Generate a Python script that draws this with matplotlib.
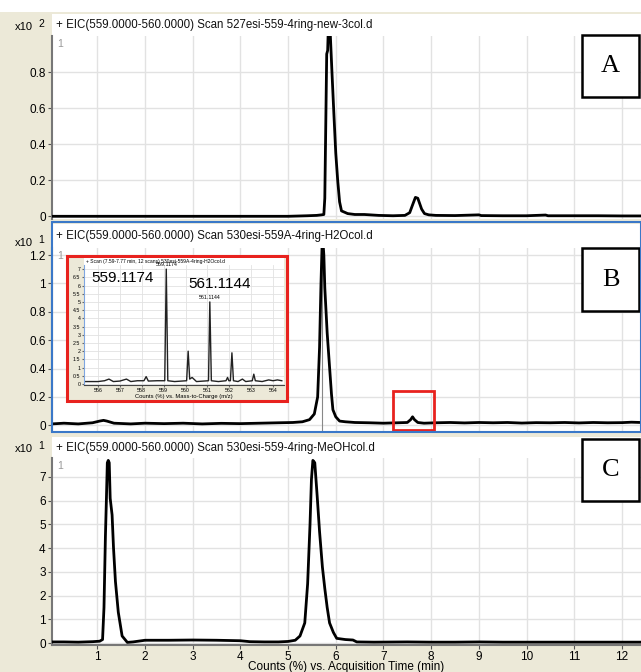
import matplotlib
matplotlib.use("Agg")
import matplotlib.pyplot as plt
from matplotlib.patches import Rectangle

plt.rcParams["font.family"] = ["Liberation Sans", "DejaVu Sans"]

# --- data ---
TIME_TICKS = [1, 2, 3, 4, 5, 6, 7, 8, 9, 10, 11, 12]

HEADERS = [
    "+ EIC(559.0000-560.0000) Scan 527esi-559-4ring-new-3col.d",
    "+ EIC(559.0000-560.0000) Scan 530esi-559A-4ring-H2Ocol.d",
    "+ EIC(559.0000-560.0000) Scan 530esi-559-4ring-MeOHcol.d",
]
PANEL_LETTERS = ["A", "B", "C"]
EXPONENTS = ["2", "1", "1"]

A_TIME = [0.05, 0.5, 1.0, 1.5, 2.0, 2.5, 3.0, 3.5, 4.0, 4.5, 5.0, 5.4, 5.6, 5.70,
          5.75, 5.77, 5.79, 5.81, 5.83, 5.85, 5.87, 5.92, 5.96, 6.00, 6.04, 6.08,
          6.12, 6.25, 6.40, 6.60, 6.90, 7.20, 7.45, 7.55, 7.62, 7.67, 7.72, 7.76,
          7.80, 7.86, 7.95, 8.10, 8.50, 9.00, 9.05, 9.50, 10.0, 10.40, 10.45,
          11.0, 11.5, 12.0, 12.4]
A_COUNTS = [0.0, 0.0, 0.0, 0.0, 0.0, 0.0, 0.0, 0.0, 0.0, 0.0, 0.0, 0.003, 0.005, 0.008,
            0.01, 0.1, 0.5, 0.9, 0.92, 1.1, 1.1, 0.8, 0.57, 0.35, 0.2, 0.08,
            0.03, 0.015, 0.01, 0.01, 0.005, 0.003, 0.005, 0.02, 0.07, 0.105, 0.10, 0.07,
            0.04, 0.015, 0.008, 0.005, 0.004, 0.008, 0.004, 0.003, 0.003, 0.007, 0.003,
            0.003, 0.003, 0.002, 0.002]

B_TIME = [0.05, 0.3, 0.6, 0.9, 1.05, 1.13, 1.2, 1.35, 1.7, 2.0, 2.4, 2.8, 3.2, 3.6,
          4.0, 4.4, 4.8, 5.1, 5.3, 5.45, 5.55, 5.62, 5.66, 5.69, 5.72, 5.75, 5.77,
          5.82, 5.87, 5.91, 5.94, 6.00, 6.08, 6.2, 6.4, 6.7, 7.0, 7.3, 7.5, 7.57,
          7.61, 7.65, 7.72, 7.85, 8.1, 8.4, 8.7, 9.0, 9.3, 9.6, 9.9, 10.2, 10.5,
          10.8, 11.1, 11.4, 11.7, 12.0, 12.2, 12.4]
B_COUNTS = [0.01, 0.015, 0.01, 0.018, 0.03, 0.035, 0.03, 0.015, 0.01, 0.015, 0.012, 0.015, 0.01, 0.014,
            0.012, 0.015, 0.018, 0.02, 0.025, 0.04, 0.08, 0.2, 0.55, 1.0, 1.35, 1.2, 0.97,
            0.65, 0.41, 0.22, 0.11, 0.06, 0.03, 0.025, 0.02, 0.018, 0.015, 0.018, 0.02, 0.04,
            0.06, 0.04, 0.02, 0.015, 0.018, 0.02, 0.017, 0.02, 0.018, 0.02, 0.016, 0.019, 0.018,
            0.02, 0.017, 0.02, 0.018, 0.019, 0.022, 0.02]

C_TIME = [0.05, 0.3, 0.6, 0.9, 1.05, 1.11, 1.14, 1.17, 1.19, 1.21, 1.23, 1.25, 1.27,
          1.31, 1.34, 1.38, 1.44, 1.52, 1.63, 1.75, 2.0, 2.5, 3.0, 3.5, 4.0, 4.2, 4.5,
          4.8, 5.0, 5.15, 5.25, 5.35, 5.41, 5.46, 5.49, 5.52, 5.56, 5.61, 5.66, 5.72,
          5.77, 5.82, 5.87, 5.95, 6.02, 6.2, 6.36, 6.44, 6.8, 7.5, 8.0, 8.5, 9.0, 9.5,
          10.0, 10.5, 11.0, 11.5, 12.0, 12.4]
C_COUNTS = [0.05, 0.05, 0.04, 0.06, 0.08, 0.15, 1.5, 4.5, 6.0, 7.6, 7.7, 7.6, 6.1,
            5.4, 4.0, 2.6, 1.3, 0.3, 0.03, 0.05, 0.12, 0.12, 0.13, 0.12, 0.1, 0.06, 0.05,
            0.05, 0.07, 0.12, 0.3, 0.85, 2.5, 5.0, 6.9, 7.7, 7.6, 6.2, 4.7, 3.2,
            2.3, 1.5, 0.85, 0.45, 0.2, 0.15, 0.13, 0.05, 0.04, 0.05, 0.04, 0.04, 0.05, 0.04,
            0.04, 0.04, 0.04, 0.04, 0.04, 0.04]

# inset mass spectrum (scan 7.59-7.77 min)
MZ = [555.4, 556.0, 556.3, 556.5, 556.7, 557.0, 557.3, 557.5, 557.8, 558.1, 558.2,
      558.3, 558.7, 559.05, 559.12, 559.19, 559.5, 560.05, 560.12, 560.19, 560.3,
      560.5, 561.05, 561.11, 561.18, 561.5, 561.85, 561.92, 561.98, 562.05, 562.12,
      562.19, 562.4, 562.6, 562.75, 563.05, 563.12, 563.19, 563.5, 563.8, 564.0,
      564.2, 564.4]
MZ_COUNTS = [0.15, 0.15, 0.2, 0.3, 0.15, 0.18, 0.3, 0.15, 0.2, 0.2, 0.45,
             0.18, 0.2, 0.2, 7.0, 0.2, 0.15, 0.2, 2.0, 0.3, 0.4,
             0.15, 0.2, 5.0, 0.2, 0.15, 0.2, 0.4, 0.2, 0.2, 1.9,
             0.2, 0.15, 0.3, 0.15, 0.2, 0.6, 0.2, 0.15, 0.25, 0.2,
             0.25, 0.2]
MZ_TICKS = [556, 557, 558, 559, 560, 561, 562, 563, 564]
INSET_YTICKS = [0, 0.5, 1, 1.5, 2, 2.5, 3, 3.5, 4, 4.5, 5, 5.5, 6, 6.5, 7]
PEAK_LABELS = ["559.1174", "561.1144"]
PEAK_MZ = [559.12, 561.11]
PEAK_HEIGHT = [7.0, 5.0]
ZOOM_WINDOW = [7.19, 8.07]

W, H = 641, 672
BEIGE = "#ECE9D8"
GRID = "#E2E2E2"


def box(x0, y0, x1, y1):
    return [x0 / W, 1 - y1 / H, (x1 - x0) / W, (y1 - y0) / H]


fig = plt.figure(figsize=(W / 100, H / 100), dpi=100)
fig.patch.set_facecolor(BEIGE)
fig.patches.append(Rectangle((0, 1 - 12 / H), 1, 12 / H, transform=fig.transFigure,
                             facecolor="white", edgecolor="none"))


def header(y0, y1, text):
    hx = fig.add_axes(box(52, y0, 641, y1))
    hx.set_facecolor("white")
    hx.set_xticks([])
    hx.set_yticks([])
    for s in hx.spines.values():
        s.set_visible(False)
    hx.text(4 / 589, 0.5, text, fontsize=8.3, va="center", ha="left", color="#111111")
    return hx


def panel(y0, y1, t, c, ylim, yticks, ylabels, exp, ylab_y, letter, lbox):
    ax = fig.add_axes(box(52, y0, 641, y1))
    ax.set_facecolor("white")
    ax.plot(t, c, color="black", lw=2.0, solid_joinstyle="round", zorder=3)
    ax.set_xlim(0.05, 12.4)
    ax.set_ylim(*ylim)
    ax.set_xticks(TIME_TICKS)
    ax.set_yticks(yticks)
    ax.set_yticklabels(ylabels)
    ax.grid(True, color=GRID, lw=1.0)
    ax.tick_params(axis="y", labelsize=8.5, length=3, color="#555555", pad=1.5)
    ax.tick_params(axis="x", labelbottom=False, length=0)
    for s in ["top", "right", "bottom"]:
        ax.spines[s].set_visible(False)
    ax.spines["left"].set_color("#777777")
    ax.spines["left"].set_linewidth(1.5)
    ax.text(0.008, 0.985, "1", transform=ax.transAxes, fontsize=7.5, color="#999999",
            va="top", ha="left")
    fig.text(15 / W, 1 - ylab_y / H, "x10", fontsize=8, va="center", ha="left")
    fig.text(38 / W, 1 - (ylab_y - 3) / H, exp, fontsize=7.5, va="center", ha="left")
    bx0, by0, bx1, by1 = lbox
    fig.patches.append(Rectangle((bx0 / W, 1 - by1 / H), (bx1 - bx0) / W, (by1 - by0) / H,
                                 transform=fig.transFigure, facecolor="white",
                                 edgecolor="black", lw=1.8, zorder=10))
    fig.text((bx0 + bx1) / 2 / W, 1 - (by0 + by1) / 2 / H, letter, fontsize=19,
             family="Liberation Serif", ha="center", va="center", zorder=11)
    return ax


# panel A
header(14, 36, HEADERS[0])
axA = panel(36, 219, A_TIME, A_COUNTS, (-0.015, 1.0), [0, 0.2, 0.4, 0.6, 0.8],
            ["0", "0.2", "0.4", "0.6", "0.8"], EXPONENTS[0], 27, PANEL_LETTERS[0],
            (582, 35, 639, 97))

# panel B
header(224, 248, HEADERS[1])
axB = panel(248, 431, B_TIME, B_COUNTS, (-0.04, 1.25), [0, 0.2, 0.4, 0.6, 0.8, 1.0, 1.2],
            ["0", "0.2", "0.4", "0.6", "0.8", "1", "1.2"], EXPONENTS[1], 243,
            PANEL_LETTERS[1], (582, 248, 639, 311))
axB.axvline(B_TIME[B_COUNTS.index(max(B_COUNTS))], color="#888888", lw=0.8, zorder=2)
axB.add_patch(Rectangle((ZOOM_WINDOW[0], -0.035), ZOOM_WINDOW[1] - ZOOM_WINDOW[0], 0.275,
                        facecolor="none", edgecolor="#E8221E", lw=2.0, zorder=5,
                        clip_on=False))
fig.patches.append(Rectangle((52 / W, 1 - 432 / H), 589 / W, 210 / H,
                             transform=fig.transFigure, facecolor="none",
                             edgecolor="#3A78C8", lw=1.5, zorder=12))

# inset spectrum
fig.patches.append(Rectangle((67 / W, 1 - 401 / H), 220 / W, 145 / H,
                             transform=fig.transFigure, facecolor=BEIGE,
                             edgecolor="#E8221E", lw=2.2, zorder=6))
ih = fig.add_axes(box(84, 258, 284, 265), zorder=7)
ih.set_facecolor("white")
ih.set_xticks([])
ih.set_yticks([])
for s in ih.spines.values():
    s.set_visible(False)
ih.text(0.01, 0.5, "+ Scan (7.59-7.77 min, 12 scans) 530esi-559A-4ring-H2Ocol.d",
        fontsize=3.6, va="center", ha="left")
axI = fig.add_axes(box(84, 265, 284, 385), zorder=7)
axI.set_facecolor("white")
axI.plot(MZ, MZ_COUNTS, color="#222222", lw=1.0)
axI.set_xlim(555.36, 564.5)
axI.set_ylim(-0.06, 7.25)
axI.set_xticks(MZ_TICKS)
axI.set_yticks(INSET_YTICKS)
axI.set_yticklabels([f"{v:g}" for v in INSET_YTICKS])
axI.grid(True, color=GRID, lw=0.6)
axI.tick_params(labelsize=3.8, length=1.5, pad=1, color="#666666")
for s in ["top", "right"]:
    axI.spines[s].set_visible(False)
axI.spines["left"].set_color("#7FA6E0")
axI.spines["bottom"].set_color("#444444")
axI.set_xlabel("Counts (%) vs. Mass-to-Charge (m/z)", fontsize=4.2, labelpad=0.3)
for lab, mz, h in zip(PEAK_LABELS, PEAK_MZ, PEAK_HEIGHT):
    axI.text(mz, h + 0.1, lab, fontsize=3.8, ha="center", va="bottom")
axI.text(555.68, 6.45, PEAK_LABELS[0], fontsize=11, ha="left", va="center")
axI.text(560.15, 6.1, PEAK_LABELS[1], fontsize=11, ha="left", va="center")

# panel C
header(437, 458, HEADERS[2])
axC = panel(458, 645, C_TIME, C_COUNTS, (-0.08, 7.8), [0, 1, 2, 3, 4, 5, 6, 7],
            ["0", "1", "2", "3", "4", "5", "6", "7"], EXPONENTS[2], 449,
            PANEL_LETTERS[2], (582, 439, 639, 501))
axC.spines["bottom"].set_visible(True)
axC.spines["bottom"].set_color("#777777")
axC.spines["bottom"].set_linewidth(1.5)
axC.tick_params(axis="x", labelbottom=True, length=3, labelsize=8.5, pad=1,
                color="#555555")
axC.set_xlabel("Counts (%) vs. Acquisition Time (min)", fontsize=8.5, labelpad=-1)

fig.savefig("out.png", dpi=100, facecolor=fig.get_facecolor())
